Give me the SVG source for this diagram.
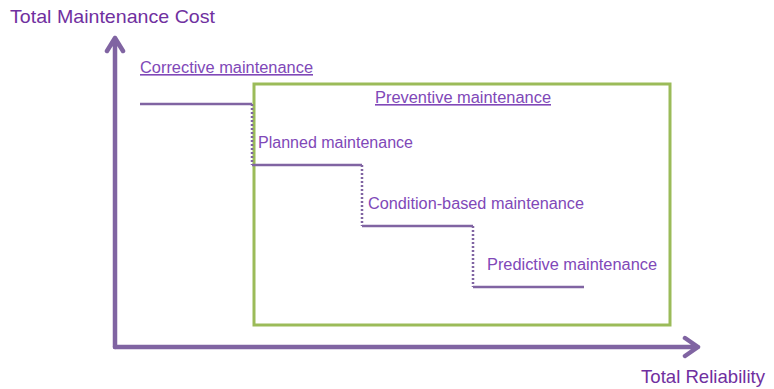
<svg xmlns="http://www.w3.org/2000/svg" width="774" height="389" viewBox="0 0 774 389">
<style>
.axis{stroke:#8064A2;stroke-width:4.5;fill:none;stroke-linecap:round;stroke-linejoin:round}
.step{stroke:#8064A2;stroke-width:2.5;fill:none}
.dot{stroke:#8064A2;stroke-width:2.5;fill:none;stroke-dasharray:2 2}
.title{font-family:"Liberation Sans",Arial,sans-serif;font-size:19px;fill:#7030A0}
.lbl{font-family:"Liberation Sans",Arial,sans-serif;font-size:16px;fill:#8048B8}
.u{text-decoration:underline}
</style>
<g id="axes">
<path class="axis" d="M115 347 V38 M107 51 L115 38 L123 51"/>
<path class="axis" d="M115 347 H698 M685 338 L698 347 L685 356"/>
</g>
<g id="preventive-box">
<rect x="254" y="84" width="416" height="241" fill="none" stroke="#9BBB59" stroke-width="3"/>
</g>
<g id="connectors">
<path class="step" d="M140 104 H252"/>
<path class="dot" d="M252 104 V165"/>
<path class="step" d="M252 165 H362"/>
<path class="dot" d="M362 165 V226"/>
<path class="step" d="M362 226 H473"/>
<path class="dot" d="M473 226 V287"/>
<path class="step" d="M473 287 H584"/>
</g>
<g id="labels">
<text class="title" x="10" y="23" textLength="205" lengthAdjust="spacingAndGlyphs">Total Maintenance Cost</text>
<text class="title" x="641" y="383" textLength="124" lengthAdjust="spacingAndGlyphs">Total Reliability</text>
<text class="lbl u" x="140" y="73" textLength="173" lengthAdjust="spacingAndGlyphs">Corrective maintenance</text>
<text class="lbl u" x="375" y="103" textLength="176" lengthAdjust="spacingAndGlyphs">Preventive maintenance</text>
<text class="lbl" x="258" y="148" textLength="155" lengthAdjust="spacingAndGlyphs">Planned maintenance</text>
<text class="lbl" x="368" y="209" textLength="216" lengthAdjust="spacingAndGlyphs">Condition-based maintenance</text>
<text class="lbl" x="487" y="270" textLength="170" lengthAdjust="spacingAndGlyphs">Predictive maintenance</text>
</g>
</svg>
